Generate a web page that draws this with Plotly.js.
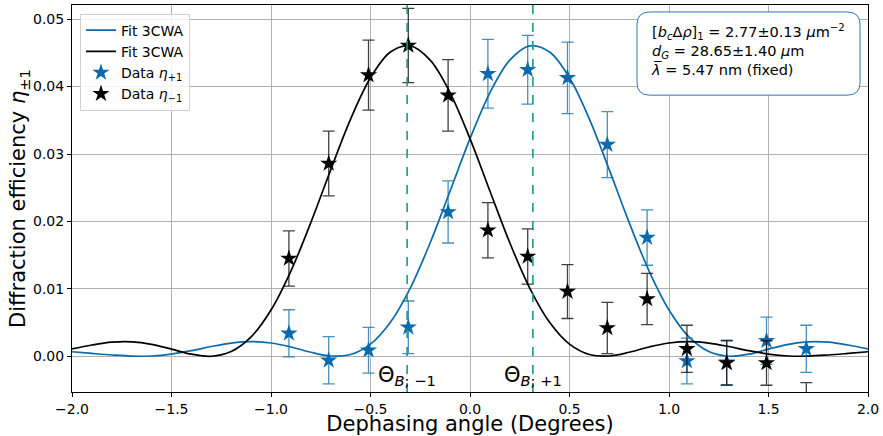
<!DOCTYPE html>
<html>
<head>
<meta charset="utf-8">
<script src="https://cdn.plot.ly/plotly-3.0.1.min.js"></script>
<style>html,body{margin:0;padding:0;background:#fff;}#chart{width:883px;height:436px;}</style>
</head>
<body>
<div id="chart"></div>
<script>
// Fit curve samples
const fitX = [-2.0,-1.9,-1.8,-1.7,-1.6,-1.5,-1.4,-1.3,-1.2,-1.1,-1.0,-0.9,-0.8,-0.7,-0.6,-0.5,-0.4,-0.3,-0.2,-0.1,0.0,
              0.1,0.2,0.3,0.4,0.5,0.6,0.7,0.8,0.9,1.0,1.1,1.2,1.3,1.4,1.5,1.6,1.7,1.8,1.9,2.0];
const fitPlus = [0.00067,0.00042,0.00019,0.00002,0.00004,0.00033,0.00083,0.00145,0.00196,0.00217,0.00197,0.00138,0.00059,0.00004,0.00026,0.00180,0.00504,0.01012,0.01683,0.02452,0.03228,
                 0.03908,0.04392,0.04604,0.04512,0.04130,0.03518,0.02765,0.01982,0.01264,0.00686,0.00287,0.00070,0.00000,0.00031,0.00106,0.00177,0.00214,0.00209,0.00167,0.00108];
const fitMinus = [0.00108,0.00167,0.00209,0.00214,0.00177,0.00106,0.00031,0.00000,0.00070,0.00287,0.00686,0.01264,0.01982,0.02765,0.03518,0.04130,0.04512,0.04604,0.04392,0.03908,0.03228,
                  0.02452,0.01683,0.01012,0.00504,0.00180,0.00026,0.00004,0.00059,0.00138,0.00197,0.00217,0.00196,0.00145,0.00083,0.00033,0.00004,0.00002,0.00019,0.00042,0.00067];

// Measured data
const dataX = [-0.91,-0.71,-0.51,-0.31,-0.11,0.09,0.29,0.49,0.69,0.89,1.09,1.29,1.49,1.69];
const etaPlus = [0.0034,-0.0006,0.0009,0.0043,0.0214,0.0419,0.0425,0.0413,0.0314,0.0176,-0.0007,-0.0009,0.0023,0.0011];
const errPlus = [0.0035,0.0035,0.0034,0.0039,0.0046,0.0051,0.0051,0.0053,0.0049,0.0041,0.0034,0.0033,0.0035,0.0035];
const etaMinus = [0.0145,0.0286,0.0417,0.0461,0.0387,0.0187,0.0148,0.0096,0.0042,0.0085,0.0011,-0.0010,-0.0010,-0.0072];
const errMinus = [0.0041,0.0048,0.0052,0.0055,0.0053,0.0041,0.0041,0.0040,0.0038,0.0038,0.0035,0.0033,0.0033,0.0033];

// Bragg angles (dashed lines) and labels
const braggAngles = [-0.316, 0.316];
const braggLabels = ['Θ<sub><i>B</i>; −1</sub>', 'Θ<sub><i>B</i>; +1</sub>'];

const xTicks = [-2.0,-1.5,-1.0,-0.5,0.0,0.5,1.0,1.5,2.0];
const yTicks = [0.00,0.01,0.02,0.03,0.04,0.05];

const BLUE = '#0a6aac';
const TEAL = '#1a9a8a';
const FONT = 'DejaVu Sans, sans-serif';

const traces = [
  {x: fitX, y: fitPlus, mode: 'lines', name: 'Fit 3CWA', line: {color: BLUE, width: 1.7, shape: 'spline', smoothing: 1}},
  {x: fitX, y: fitMinus, mode: 'lines', name: 'Fit 3CWA', line: {color: '#000', width: 1.7, shape: 'spline', smoothing: 1}},
  {x: dataX, y: etaPlus, mode: 'markers', name: 'Data <i>η</i><sub>+1</sub>',
   marker: {symbol: 'star', size: 13, color: BLUE},
   error_y: {type: 'data', array: errPlus, visible: true, color: 'rgba(10,106,172,0.75)', thickness: 1.3, width: 6}},
  {x: dataX, y: etaMinus, mode: 'markers', name: 'Data <i>η</i><sub>−1</sub>',
   marker: {symbol: 'star', size: 13, color: '#000'},
   error_y: {type: 'data', array: errMinus, visible: true, color: 'rgba(0,0,0,0.75)', thickness: 1.3, width: 6}}
];

const shapes = braggAngles.map(a => ({
  type: 'line', xref: 'x', yref: 'paper', x0: a, x1: a, y0: 0, y1: 1,
  line: {color: TEAL, width: 1.6, dash: 'dash'}, layer: 'above'
}));

// rounded info box (paper coords)
const bx0 = 0.7098, bx1 = 0.99, by0 = 0.767, by1 = 0.982, rx = 0.016, ry = 0.033;
shapes.push({
  type: 'path', xref: 'paper', yref: 'paper',
  path: `M ${bx0+rx} ${by1} L ${bx1-rx} ${by1} Q ${bx1} ${by1} ${bx1} ${by1-ry} L ${bx1} ${by0+ry} Q ${bx1} ${by0} ${bx1-rx} ${by0} L ${bx0+rx} ${by0} Q ${bx0} ${by0} ${bx0} ${by0+ry} L ${bx0} ${by1-ry} Q ${bx0} ${by1} ${bx0+rx} ${by1} Z`,
  line: {color: '#2a78b8', width: 1}, fillcolor: '#fff', layer: 'above'
});

const annotations = braggAngles.map((a, i) => ({
  x: a, y: -0.0029, xref: 'x', yref: 'y', text: braggLabels[i], showarrow: false,
  font: {family: FONT, size: 21, color: '#000'}, xanchor: 'center', yanchor: 'middle'
}));
annotations.push({
  xref: 'paper', yref: 'paper', x: 0.725, y: 0.962, xanchor: 'left', yanchor: 'top', align: 'left',
  showarrow: false,
  text: '[<i>b<sub>c</sub></i>Δ<i>ρ</i>]<sub>1</sub> = 2.77±0.13 <i>μ</i>m<sup>−2</sup><br><i>d<sub>G</sub></i> = 28.65±1.40 <i>μ</i>m<br><i>λ\u0305</i> = 5.47 nm (fixed)',
  font: {family: FONT, size: 14.5, color: '#000'}
});

const layout = {
  width: 883, height: 436,
  margin: {l: 72, r: 15, t: 5, b: 44},
  paper_bgcolor: '#fff', plot_bgcolor: '#fff',
  font: {family: FONT, color: '#000'},
  showlegend: true,
  legend: {x: 0.01, y: 0.978, xanchor: 'left', yanchor: 'top', bgcolor: 'rgba(255,255,255,0.85)',
           bordercolor: '#d0d0d0', borderwidth: 1, font: {family: FONT, size: 14}, tracegroupgap: 0},
  xaxis: {
    range: [-2, 2], tickvals: xTicks, ticktext: xTicks.map(v => v.toFixed(1).replace('-', '−')),
    showgrid: true, gridcolor: '#b0b0b0', gridwidth: 1, zeroline: false,
    showline: true, linecolor: '#000', linewidth: 1, mirror: true,
    ticks: 'outside', ticklen: 4, tickcolor: '#000', tickfont: {family: FONT, size: 14},
    title: {text: 'Dephasing angle (Degrees)', font: {family: FONT, size: 21}, standoff: 5}
  },
  yaxis: {
    range: [-0.0053, 0.0521], tickvals: yTicks, ticktext: yTicks.map(v => v.toFixed(2)),
    showgrid: true, gridcolor: '#b0b0b0', gridwidth: 1, zeroline: false,
    showline: true, linecolor: '#000', linewidth: 1, mirror: true,
    ticks: 'outside', ticklen: 4, tickcolor: '#000', tickfont: {family: FONT, size: 14},
    title: {text: 'Diffraction efficiency <i>η</i><sub>±1</sub>', font: {family: FONT, size: 21}, standoff: 1}
  },
  shapes: shapes,
  annotations: annotations
};

Plotly.newPlot('chart', traces, layout, {displayModeBar: false, staticPlot: true});
</script>
</body>
</html>
